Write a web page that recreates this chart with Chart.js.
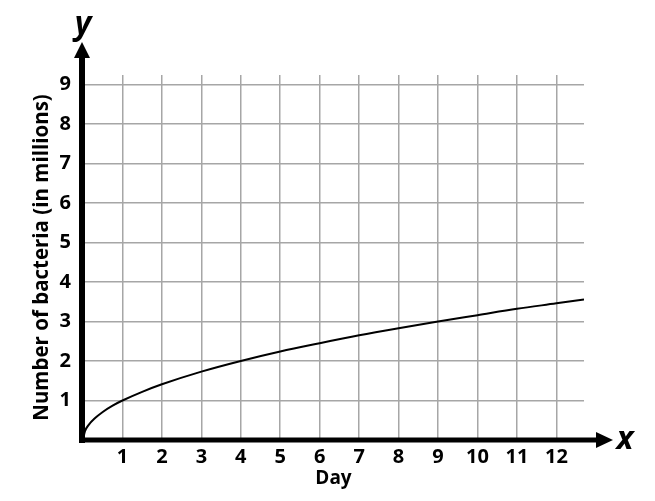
<!DOCTYPE html>
<html>
<head>
<meta charset="utf-8">
<script src="https://cdn.jsdelivr.net/npm/chart.js@4/dist/chart.umd.min.js"></script>
<style>
  html, body { margin: 0; padding: 0; background: #fff; }
  #wrap { width: 655px; height: 501px; }
</style>
</head>
<body>
<div id="wrap"><canvas id="bacteriaChart"></canvas></div>
<script>
// values
const days = [0, 0.05, 0.15, 0.3, 0.5, 0.75, 1, 1.5, 2, 3, 4, 5, 6, 7, 8, 9, 10, 11, 12, 12.7];
const bacteria = [0, 0.22, 0.39, 0.55, 0.71, 0.87, 1, 1.22, 1.41, 1.73, 2, 2.24, 2.45, 2.65, 2.83, 3, 3.16, 3.32, 3.46, 3.56];
const xMax = 12.7;
const yMax = 9.24;

const FONT = "'Open Sans', sans-serif";

// arrowed axes and the x / y letters
const axesPlugin = {
  id: "arrowAxes",
  afterDraw(chart) {
    const ctx = chart.ctx;
    const x0 = chart.scales.x.getPixelForValue(0);
    const y0 = chart.scales.y.getPixelForValue(0);
    ctx.save();
    ctx.fillStyle = "#000";
    ctx.strokeStyle = "#000";
    ctx.lineCap = "butt";

    // y axis
    ctx.lineWidth = 6;
    ctx.beginPath();
    ctx.moveTo(x0 - 1, y0 + 3);
    ctx.lineTo(x0 - 1, 57);
    ctx.stroke();
    ctx.beginPath();
    ctx.moveTo(x0 - 1, 42);
    ctx.lineTo(x0 - 9, 58);
    ctx.lineTo(x0 + 7, 58);
    ctx.closePath();
    ctx.fill();

    // x axis
    ctx.lineWidth = 5;
    ctx.beginPath();
    ctx.moveTo(x0 - 4, y0);
    ctx.lineTo(598, y0);
    ctx.stroke();
    ctx.beginPath();
    ctx.moveTo(613, y0);
    ctx.lineTo(596, y0 - 8);
    ctx.lineTo(596, y0 + 8);
    ctx.closePath();
    ctx.fill();

    ctx.font = "italic bold 32px " + FONT;
    ctx.textAlign = "center";
    ctx.textBaseline = "alphabetic";
    ctx.fillText("y", x0, 34);
    ctx.fillText("x", 625, y0 + 9);
    ctx.restore();
  }
};

const ctx = document.getElementById("bacteriaChart").getContext("2d");
const bacteriaChart = new Chart(ctx, {
  type: "scatter",
  data: {
    datasets: [
      {
        data: days.map((d, i) => ({ x: d, y: bacteria[i] })),
        showLine: true,
        borderColor: "#000",
        borderWidth: 2,
        pointRadius: 0,
        cubicInterpolationMode: "monotone",
      },
    ],
  },
  options: {
    responsive: true,
    maintainAspectRatio: false,
    animation: false,
    layout: { padding: { left: 0, top: 75, right: 71, bottom: 0 } },
    plugins: {
      legend: { display: false },
      tooltip: { enabled: false },
    },
    scales: {
      x: {
        type: "linear",
        min: 0,
        max: xMax,
        afterFit(scale) { scale.height = 61; },
        border: { display: false },
        grid: { color: "#a6a6a6", lineWidth: 1.5, drawTicks: false },
        ticks: {
          stepSize: 1,
          includeBounds: false,
          padding: 5,
          color: "#000",
          font: { family: FONT, size: 20, weight: "bold" },
          callback: (v) => (v === 0 ? "" : v),
        },
        title: {
          display: true,
          text: "Day",
          color: "#000",
          font: { family: FONT, size: 19, weight: "bold" },
          padding: { top: 0, bottom: 11 },
        },
      },
      y: {
        type: "linear",
        min: 0,
        max: yMax,
        afterFit(scale) { scale.width = 83; },
        border: { display: false },
        grid: { color: "#a6a6a6", lineWidth: 1.5, drawTicks: false },
        ticks: {
          stepSize: 1,
          includeBounds: false,
          padding: 12,
          color: "#000",
          font: { family: FONT, size: 20, weight: "bold" },
          callback: (v) => (v === 0 ? "" : v),
        },
        title: {
          display: true,
          text: "Number of bacteria (in millions)",
          color: "#000",
          font: { family: FONT, size: 20.5, weight: "bold" },
          padding: { top: 30, bottom: 0 },
        },
      },
    },
  },
  plugins: [axesPlugin],
});
</script>
</body>
</html>
